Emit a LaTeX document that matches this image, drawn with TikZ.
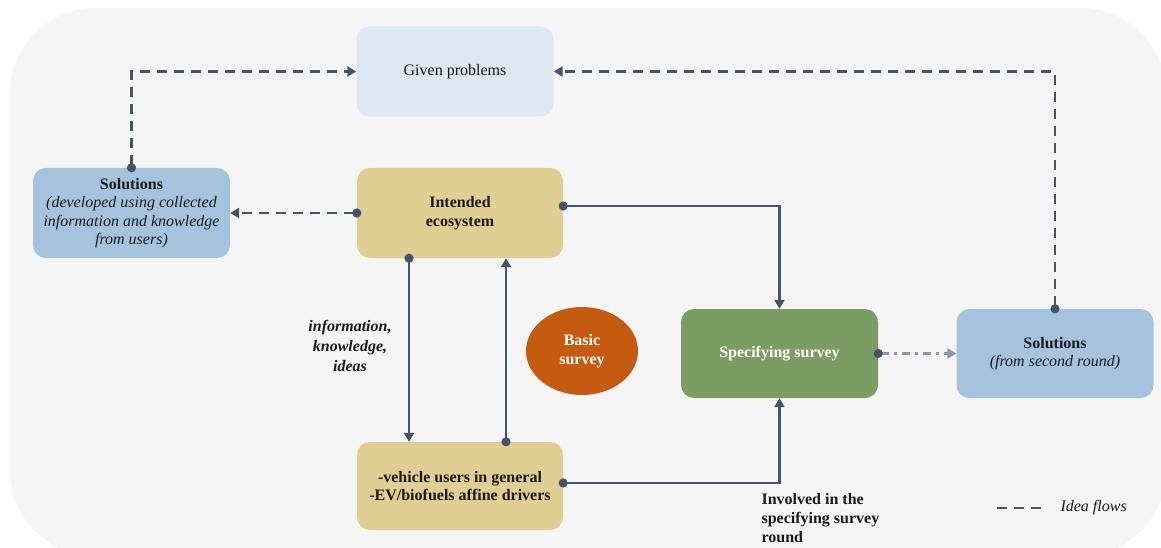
\documentclass[tikz,border=0pt]{standalone}
\usepackage{fontspec}
\setmainfont{Liberation Serif}
\usetikzlibrary{arrows.meta,shapes.geometric}
\definecolor{bgc}{HTML}{F5F5F5}
\definecolor{gpc}{HTML}{DEE8F2}
\definecolor{solc}{HTML}{A6C3DD}
\definecolor{iec}{HTML}{E0CE93}
\definecolor{bsc}{HTML}{C55A11}
\definecolor{ssc}{HTML}{7B9D64}
\definecolor{linec}{HTML}{44546A}
\definecolor{ddc}{HTML}{8A97A8}
\definecolor{txt}{HTML}{1A1A1A}
\tikzset{
  box/.style={rounded corners=13pt, minimum width=197pt, minimum height=90pt, inner sep=2pt, align=center, text=txt, font=\fontsize{16}{18.5}\selectfont},
  conn/.style={draw=linec, line width=2.7pt, {Circle[length=9pt,width=9pt]}-{Triangle[length=9pt,width=10pt]}, shorten <=-4.5pt},
  idea/.style={conn, dash pattern=on 10pt off 7pt},
  dd/.style={draw=ddc, line width=2.7pt, dash pattern=on 8pt off 5pt on 3pt off 5pt, {Circle[length=9pt,width=9pt,fill=linec,color=linec]}-{Triangle[length=9pt,width=10pt]}, shorten <=-4.5pt},
  lbl/.style={text=txt, font=\fontsize{16}{19.5}\selectfont\bfseries}
}
\begin{document}
\begin{tikzpicture}[x=1pt,y=-1pt]
\useasboundingbox (0,0) rectangle (1161,548);
\fill[bgc, rounded corners=85pt] (10,8) rectangle (1166,556);

\node[box, fill=gpc] (gp) at (455,71.5) {Given problems};
\node[box, fill=solc] (solL) at (131.5,213) {\textbf{Solutions}\\\textit{(developed using collected}\\\textit{information and knowledge}\\\textit{from users)}};
\node[box, fill=iec, minimum width=206pt] (ie) at (460,213) {\textbf{Intended}\\\textbf{ecosystem}};
\node[box, fill=iec, minimum width=206pt, minimum height=88pt] (users) at (460,486) {\textbf{-vehicle users in general}\\\textbf{-EV/biofuels affine drivers}};
\node[ellipse, fill=bsc, minimum width=112pt, minimum height=88pt, inner sep=0pt, align=center, text=white, font=\fontsize{16}{19}\selectfont\bfseries] (bs) at (582,351) {Basic\\survey};
\node[box, fill=ssc, text=white, minimum height=89pt, font=\fontsize{16}{18.5}\selectfont\bfseries] (ss) at (779.5,353.5) {Specifying survey};
\node[box, fill=solc, minimum height=89pt] (solR) at (1055,353.5) {\textbf{Solutions}\\\textit{(from second round)}};

\draw[idea] (solL.north) |- (gp.west);
\draw[idea] (solR.north) |- (gp.east);
\draw[idea] (ie.west) -- (solL.east);
\draw[conn] ([yshift=7pt]ie.east) -| (ss.north);
\draw[conn] ([xshift=-51pt]ie.south) -- ([xshift=-51pt]users.north);
\draw[conn] ([xshift=46pt]users.north) -- ([xshift=46pt]ie.south);
\draw[conn] ([yshift=3pt]users.east) -| (ss.south);
\draw[dd] (ss.east) -- (solR.west);

\node[lbl, align=center, font=\fontsize{16}{20}\selectfont\bfseries\itshape] (info) at (350,346) {information,\\knowledge,\\ideas};
\node[lbl, align=left, anchor=north west, font=\fontsize{16}{19}\selectfont\bfseries] (inv) at (758,490) {Involved in the\\specifying survey\\round};

\coordinate (lg1) at (997,508);
\coordinate (lg2) at (1045,508);
\draw[draw=linec, line width=2.7pt, dash pattern=on 10pt off 7pt] (lg1) -- (lg2);
\node[anchor=west, text=txt, font=\fontsize{16}{18}\selectfont\itshape] (lgt) at (1057,508) {Idea flows};
\end{tikzpicture}
\end{document}
